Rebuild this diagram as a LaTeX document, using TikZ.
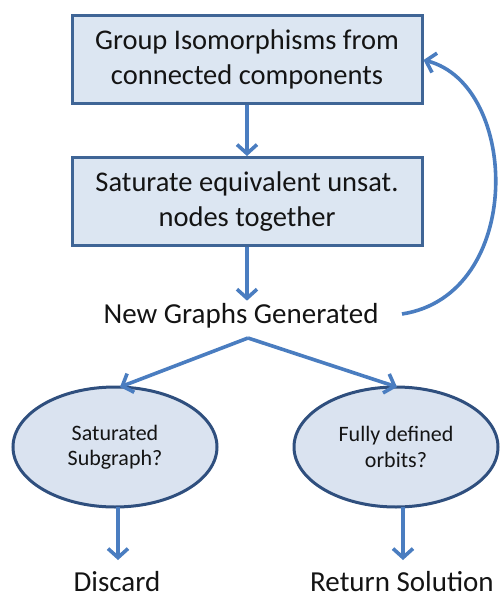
\documentclass[tikz,border=0pt]{standalone}
\usepackage{fontspec}
\setmainfont{Carlito}
\usetikzlibrary{arrows.meta,shapes.geometric}
\definecolor{boxfill}{HTML}{DCE6F2}
\definecolor{boxline}{HTML}{3F6596}
\definecolor{ellfill}{HTML}{DAE3F0}
\definecolor{ellline}{HTML}{2F4F7E}
\definecolor{arrowc}{HTML}{4A7DC0}
\definecolor{txt}{HTML}{141414}
\begin{document}
\begin{tikzpicture}[x=1pt,y=-1pt,
  procbox/.style={draw=boxline,fill=boxfill,line width=3pt,rectangle,
    minimum width=350pt,minimum height=88pt,inner sep=0pt,align=center,
    text=txt,font=\fontsize{28.5}{35}\selectfont},
  decell/.style={draw=ellline,fill=ellfill,line width=3pt,ellipse,
    minimum width=204pt,minimum height=120pt,inner sep=0pt,align=center,
    text=txt,font=\fontsize{22}{25.5}\selectfont},
  plain/.style={text=txt,font=\fontsize{29}{34}\selectfont,inner sep=2pt},
  conn/.style={draw=arrowc,line width=3.6pt,
    -{Straight Barb[length=9pt,width=20pt,line width=3.6pt]}}
]
\useasboundingbox (0,0) rectangle (499,598);
\node[procbox] (b1) at (247,59) {Group Isomorphisms from\\connected components};
\node[procbox] (b2) at (247,201.5) {Saturate equivalent unsat.\\nodes together};
\node[plain,anchor=base] (ng) at (241,323) {New Graphs Generated};
\node[decell] (e1) at (115,447) {Saturated\\Subgraph?};
\node[decell] (e2) at (396,447) {Fully defined\\orbits?};
\node[plain,anchor=base] (d1) at (117,591) {Discard};
\node[plain,anchor=base] (d2) at (402,591) {Return Solution};
\coordinate (apex) at (248,338);
\coordinate (loopstart) at (402,314);

\draw[conn] (b1.south) -- (b2.north);
\draw[conn] (b2.south) -- (b2.south |- ng.north);
\draw[conn] (apex) -- (120,387);
\draw[conn] (apex) -- (397,387);
\draw[conn] (118,507) -- (118,560);
\draw[conn] (403,507) -- (403,560);
\draw[conn] (loopstart) .. controls (525,295) and (520,85) .. (b1.east |- 0,60);
\end{tikzpicture}
\end{document}
